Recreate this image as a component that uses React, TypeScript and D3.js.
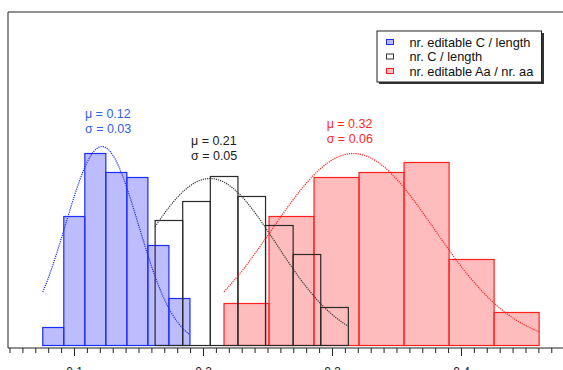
import * as d3 from 'd3';

// histogram bins (x start, bin width) and heights
const blueStart = 0.0754;
const blueWidth = 0.0163;
const blueValues = [1.8, 12.9, 19.2, 17.3, 16.8, 10.0, 4.7];

const blackStart = 0.1625;
const blackWidth = 0.0214;
const blackValues = [12.5, 14.4, 16.9, 14.9, 12.0, 9.1, 3.8];

const redStart = 0.2159;
const redWidth = 0.0349;
const redValues = [4.2, 12.9, 16.8, 17.3, 18.3, 8.6, 3.3];

// fitted normal curves: mean, sd, peak height
const fits = [
  { mu: 0.1213, sigma: 0.0283, peak: 19.9, from: 0.0754, to: 0.1895, color: '#1a2cff' },
  { mu: 0.205, sigma: 0.0516, peak: 16.7, from: 0.1625, to: 0.3122, color: '#333333' },
  { mu: 0.3161, sigma: 0.0628, peak: 19.2, from: 0.2159, to: 0.4603, color: '#ff2020' },
];

const labels = [
  { text: ['μ = 0.12', 'σ = 0.03'], x: 0.1081, y: 22.8, color: '#3060f0' },
  { text: ['μ = 0.21', 'σ = 0.05'], x: 0.1903, y: 20.1, color: '#222222' },
  { text: ['μ = 0.32', 'σ = 0.06'], x: 0.2955, y: 21.8, color: '#ff2a2a' },
];

const legendItems = ['nr. editable C / length', 'nr. C / length', 'nr. editable Aa / nr. aa'];
const xTicks = d3.range(5, 48).map(d => d / 100);
const xLabels = [0.1, 0.2, 0.3, 0.4];

const W = 563;
const H = 370;
const left = 8;
const top = 12;
const base = 345.5;
const axisY = 348;

export default function App() {
  const x = d3.scaleLinear().domain([0.04845, 0.4787]).range([left, W]);
  const y = d3.scaleLinear().domain([0, 33.35]).range([base, top]);

  const bars = (start: number, w: number, vals: number[], fill: string, stroke: string, fo: number) =>
    vals.map((v, i) => (
      <rect
        key={i}
        x={x(start + i * w)}
        y={y(v)}
        width={x(start + (i + 1) * w) - x(start + i * w)}
        height={base - y(v)}
        fill={fill}
        fillOpacity={fo}
        stroke={stroke}
        strokeWidth={1.2}
      />
    ));

  const line = d3.line<number[]>().x(d => x(d[0])).y(d => y(d[1]));
  const curve = (f: typeof fits[number]) =>
    d3.range(0, 101).map(i => {
      const t = f.from + (f.to - f.from) * i / 100;
      return [t, f.peak * Math.exp(-0.5 * ((t - f.mu) / f.sigma) ** 2)];
    });

  const font = "'Liberation Sans', Arial, sans-serif";
  const swatch = [
    { fill: '#b8b8fa', stroke: '#1a2cff' },
    { fill: '#ffffff', stroke: '#333333' },
    { fill: '#ffbcbc', stroke: '#ff2020' },
  ];

  return (
    <svg width={W} height={H} style={{ position: 'absolute', left: 0, top: 0 }} fontFamily={font}>
      <rect width={W} height={H} fill="#ffffff" />

      {bars(blueStart, blueWidth, blueValues, '#7a7aff', '#1a2cff', 0.5)}
      {bars(redStart, redWidth, redValues, '#ff7a7a', '#ff2020', 0.5)}
      {bars(blackStart, blackWidth, blackValues, 'none', '#2a2a2a', 1)}

      {fits.map((f, i) => (
        <path key={i} d={line(curve(f) as any) || ''} fill="none" stroke={f.color} strokeWidth={1.2} strokeDasharray="1.2 1" />
      ))}

      {labels.map((l, i) => (
        <text key={i} fill={l.color} fontSize={12.5}>
          <tspan x={x(l.x)} y={y(l.y)}>{l.text[0]}</tspan>
          <tspan x={x(l.x)} y={y(l.y) + 15.5}>{l.text[1]}</tspan>
        </text>
      ))}

      {/* frame */}
      <line x1={left} x2={W} y1={top} y2={top} stroke="#222" strokeWidth={1} />
      <line x1={left} x2={left} y1={top} y2={axisY} stroke="#222" strokeWidth={1} />
      <line x1={left} x2={W} y1={axisY} y2={axisY} stroke="#222" strokeWidth={1} />
      {xTicks.map((t, i) => {
        const major = xLabels.some(m => Math.abs(m - t) < 1e-9);
        return (
          <line key={i} x1={x(t)} x2={x(t)} y1={axisY} y2={axisY + (major ? 8 : 5)} stroke="#222" strokeWidth={1} />
        );
      })}
      {xLabels.map((t, i) => (
        <text key={i} x={x(t)} y={376} textAnchor="middle" fontSize={12} fill="#222">{t.toFixed(1)}</text>
      ))}

      {/* legend */}
      <rect x={379} y={33} width={165} height={51} fill="#333" />
      <rect x={377} y={31} width={164.5} height={51} fill="#ffffff" stroke="#222" strokeWidth={1} />
      {legendItems.map((name, i) => (
        <g key={i} transform={`translate(0, ${42 + i * 14.5})`}>
          <rect x={386.5} y={-2.5} width={7} height={5} fill={swatch[i].fill} stroke={swatch[i].stroke} strokeWidth={1} />
          <text x={409.5} y={4.5} fontSize={12.8} fill="#111">{name}</text>
        </g>
      ))}
    </svg>
  );
}
